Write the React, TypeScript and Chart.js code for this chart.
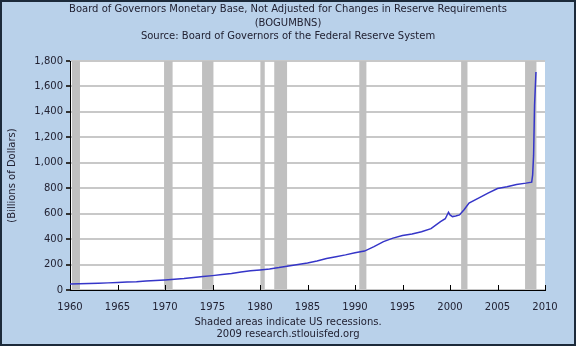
import React, { useEffect, useRef } from 'react';
import { Chart, registerables } from 'chart.js';

Chart.register(...registerables);

const TITLE_LINES = [
  'Board of Governors Monetary Base, Not Adjusted for Changes in Reserve Requirements',
  '(BOGUMBNS)',
  'Source: Board of Governors of the Federal Reserve System',
];
const Y_TITLE = '(Billions of Dollars)';
const FOOTER_LINES = ['Shaded areas indicate US recessions.', '2009 research.stlouisfed.org'];

const DATES = [
  1960.0, 1961.0, 1962.0, 1963.0, 1964.0, 1965.0, 1966.0, 1967.0, 1968.0, 1969.0,
  1970.0, 1971.0, 1972.0, 1973.0, 1974.0, 1975.0, 1976.0, 1977.0, 1978.0, 1979.0,
  1980.0, 1981.0, 1982.0, 1983.0, 1984.0, 1985.0, 1986.0, 1987.0, 1988.0, 1989.0,
  1990.0, 1991.0, 1992.0, 1993.0, 1994.0, 1995.0, 1996.0, 1997.0, 1998.0, 1999.0,
  1999.5, 1999.84, 2000.0, 2000.26, 2000.6, 2001.0, 2001.5, 2002.0, 2003.0, 2004.0,
  2005.0, 2006.0, 2007.0, 2008.0, 2008.6, 2008.7, 2008.8, 2008.9, 2009.05,
];
const BASE = [
  48, 49, 51, 53, 56, 59, 62, 65, 70, 74,
  79, 84, 90, 98, 106, 113, 121, 130, 141, 151,
  158, 166, 176, 188, 200, 212, 228, 248, 262, 276,
  292, 306, 341, 380, 408, 428, 440, 458, 482, 537,
  560, 611, 590, 577, 582, 590, 633, 684, 722, 762,
  798, 812, 830, 840, 848, 905, 1060, 1450, 1713,
];

const RECESSION_START = [1960.2, 1969.9, 1973.9, 1980.04, 1981.5, 1990.45, 2001.17, 2007.9];
const RECESSION_END = [1961.05, 1970.8, 1975.1, 1980.5, 1982.85, 1991.2, 2001.84, 2009.1];

const X_MIN = 1960;
const X_MAX = 2010;
const X_STEP = 5;
const Y_MIN = 0;
const Y_MAX = 1800;
const Y_STEP = 200;

const FONT = 'DejaVu Sans';
const TEXT_COLOR = '#222233';

const decorPlugin = {
  id: 'decor',
  beforeDraw(chart: any) {
    const { ctx, chartArea, width, height } = chart;
    ctx.save();
    ctx.fillStyle = '#b9d1ea';
    ctx.fillRect(0, 0, width, height);
    ctx.fillStyle = '#ffffff';
    ctx.fillRect(chartArea.left, chartArea.top, chartArea.right - chartArea.left, chartArea.bottom - chartArea.top);
    ctx.strokeStyle = '#1c2a3a';
    ctx.lineWidth = 2;
    ctx.strokeRect(1, 1, width - 2, height - 2);
    ctx.restore();
  },
  beforeDatasetsDraw(chart: any) {
    const { ctx, chartArea, scales } = chart;
    const x = scales.x;
    ctx.save();
    ctx.fillStyle = '#c0c0c0';
    for (let i = 0; i < RECESSION_START.length; i++) {
      const a = Math.max(x.getPixelForValue(RECESSION_START[i]), chartArea.left + 1);
      const b = Math.min(x.getPixelForValue(RECESSION_END[i]), chartArea.right);
      ctx.fillRect(a, chartArea.top, b - a, chartArea.bottom - chartArea.top - 1);
    }
    ctx.restore();
  },
  afterDatasetsDraw(chart: any) {
    const { ctx, chartArea, scales } = chart;
    const x = scales.x;
    ctx.save();
    ctx.strokeStyle = '#000000';
    ctx.lineWidth = 1;
    for (const t of x.ticks) {
      const px = Math.round(x.getPixelForValue(t.value)) + 0.5;
      ctx.beginPath();
      ctx.moveTo(px, chartArea.bottom);
      ctx.lineTo(px, chartArea.bottom - 5);
      ctx.stroke();
    }
    ctx.restore();
  },
};

export default function App() {
  const ref = useRef<HTMLCanvasElement | null>(null);

  useEffect(() => {
    if (!ref.current) return;
    const chart = new Chart(ref.current, {
      type: 'line',
      data: {
        datasets: [
          {
            label: 'BOGUMBNS',
            data: DATES.map((d, i) => ({ x: d, y: BASE[i] })),
            borderColor: '#3535c8',
            borderWidth: 1.5,
            pointRadius: 0,
            tension: 0,
            fill: false,
            yAxisID: 'y',
          },
        ],
      },
      options: {
        responsive: false,
        animation: false,
        layout: { padding: 0 },
        plugins: {
          legend: { display: false },
          tooltip: { enabled: false },
          title: {
            display: true,
            text: TITLE_LINES,
            color: TEXT_COLOR,
            font: { family: FONT, size: 10, weight: 'normal', lineHeight: 1.35 },
            padding: { top: 3, bottom: 17.5 },
          },
          subtitle: {
            display: true,
            position: 'bottom',
            text: FOOTER_LINES,
            color: TEXT_COLOR,
            font: { family: FONT, size: 10, weight: 'normal', lineHeight: 1.2 },
            padding: { top: 0, bottom: 6 },
          },
        },
        scales: {
          x: {
            type: 'linear',
            min: X_MIN,
            max: X_MAX,
            afterFit: (s: any) => {
              s.height = 26;
            },
            ticks: {
              stepSize: X_STEP,
              color: TEXT_COLOR,
              font: { family: FONT, size: 10 },
              padding: 3,
              maxRotation: 0,
              callback: (v: any) => String(v),
            },
            grid: { display: false },
            border: { display: true, color: '#000000', width: 1 },
          },
          y: {
            type: 'linear',
            min: Y_MIN,
            max: Y_MAX,
            afterFit: (s: any) => {
              s.width = 70;
            },
            ticks: {
              stepSize: Y_STEP,
              color: TEXT_COLOR,
              font: { family: FONT, size: 10 },
              padding: 3,
              callback: (v: any) => Number(v).toLocaleString('en-US'),
            },
            grid: {
              color: '#c8c8c8',
              lineWidth: 2,
              drawTicks: true,
              tickLength: 4,
              tickColor: '#333333',
            },
            border: { display: true, color: '#000000', width: 1 },
            title: {
              display: true,
              text: Y_TITLE,
              color: TEXT_COLOR,
              font: { family: FONT, size: 10 },
              padding: { top: 6, bottom: 0 },
            },
          },
          yRight: {
            type: 'linear',
            position: 'right',
            min: Y_MIN,
            max: Y_MAX,
            afterFit: (s: any) => {
              s.width = 31;
            },
            ticks: { display: false },
            grid: { display: false },
            border: { display: false },
          },
        },
      },
      plugins: [decorPlugin],
    });
    return () => chart.destroy();
  }, []);

  return (
    <div style={{ position: 'absolute', left: 0, top: 0, width: 576, height: 346 }}>
      <canvas ref={ref} width={576} height={346} style={{ display: 'block' }} />
    </div>
  );
}
